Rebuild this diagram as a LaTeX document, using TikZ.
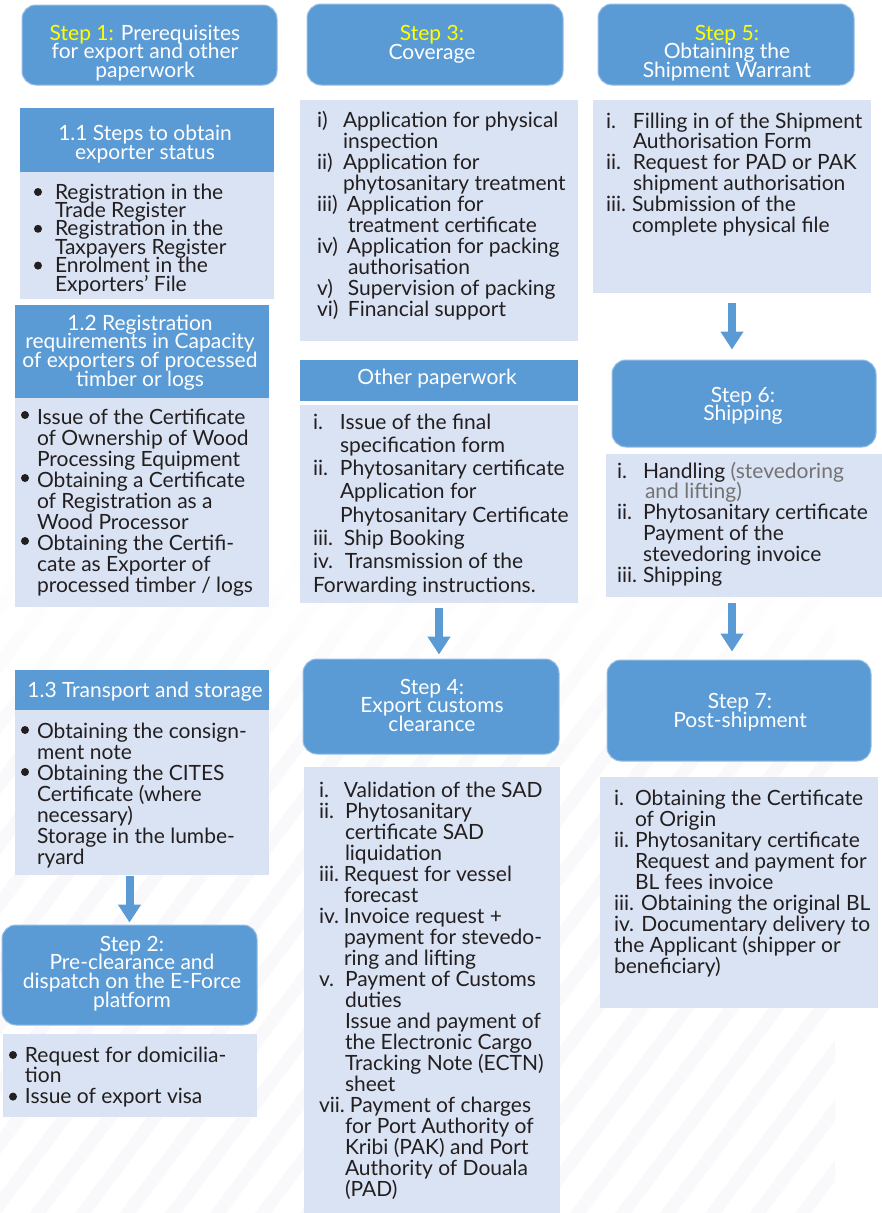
\documentclass[tikz,border=0pt]{standalone}
\usepackage{fontspec}
\setmainfont{Lato}
\usetikzlibrary{arrows.meta,fadings}

\definecolor{stepblue}{RGB}{91,155,213}
\definecolor{stepline}{RGB}{150,190,228}
\definecolor{pale}{RGB}{218,227,243}
\definecolor{ink}{RGB}{35,31,32}
\definecolor{hl}{RGB}{255,255,0}
\definecolor{soft}{RGB}{115,115,115}
\definecolor{stripe}{RGB}{249,249,251}

% list helpers: fixed-width label, hanging indent, first-line strut, bullet
\newcommand{\lab}[2]{\makebox[#1pt][l]{#2}}
\newcommand{\ind}[1]{\hspace*{#1pt}}
\newcommand{\tp}{\rule{0pt}{19pt}}
\newcommand{\bul}[1]{\raisebox{#1pt}{\tikz\fill[ink] (0,0) circle (4pt);}}

\begin{document}
\begin{tikzpicture}[x=1pt,y=-1pt,
  stepbox/.style={draw=stepline, line width=1pt, fill=stepblue, rounded corners=14pt, inner sep=0pt},
  headbox/.style={fill=stepblue, inner sep=0pt},
  bodybox/.style={fill=pale, inner sep=0pt},
  bodytxt/.style={anchor=north west, inner sep=0pt, outer sep=0pt, align=left, text=ink},
  headtxt/.style={anchor=north, inner sep=0pt, outer sep=0pt, align=center, text=white},
  blockarrow/.style={draw=stepblue, line width=8pt, -{Triangle[width=22pt,length=18pt]}}
]
\useasboundingbox (0,0) rectangle (882,1213);
\fill[white] (0,0) rectangle (882,1213);

% faint diagonal background bands in the lower part, fading out upwards
\begin{scope}
  \clip (0,560) rectangle (835,1213);
  \foreach \k in {0,...,40}
    \fill[stripe] (-600+\k*45,1213) -- ++(16,0) -- ++(525,-700) -- ++(-16,0) -- cycle;
  \fill[white, path fading=south] (0,559) rectangle (882,780);
\end{scope}

% ---------- column 1 ----------
\node[stepbox, minimum width=255pt, minimum height=80pt] (s1) at (149.5,45) {};
\node[headtxt, font={\fontsize{21}{18.5}\selectfont\lineskiplimit=-50pt}] (s1t) at (145,21)
  {\tp{\color{hl}Step 1:} Prerequisites\\for export and other\\paperwork};

\node[headbox, minimum width=254pt, minimum height=64pt] (h11) at (147,140) {};
\node[headtxt, font={\fontsize{21}{19}\selectfont\lineskiplimit=-50pt}] (h11t) at (145,121)
  {\tp 1.1 Steps to obtain\\exporter status};
\node[bodybox, minimum width=254pt, minimum height=127pt] (b11) at (147,235.5) {};
\node[bodytxt, font={\fontsize{21}{18.4}\selectfont\lineskiplimit=-50pt}] (b11t) at (34,180)
  {\tp\lab{21}{\bul{3}}Registration in the\\
   \ind{21}Trade Register\\
   \lab{21}{\bul{3}}Registration in the\\
   \ind{21}Taxpayers Register\\
   \lab{21}{\bul{3}}Enrolment in the\\
   \ind{21}Exporters’ File};

\node[headbox, minimum width=254pt, minimum height=93pt] (h12) at (142,351.5) {};
\node[headtxt, font={\fontsize{21}{18.7}\selectfont\lineskiplimit=-50pt}] (h12t) at (140,311)
  {\tp 1.2 Registration\\requirements in Capacity\\of exporters of processed\\timber or logs};
\node[bodybox, minimum width=254pt, minimum height=209pt] (b12) at (142,502.5) {};
\node[bodytxt, font={\fontsize{21}{21}\selectfont\lineskiplimit=-50pt}] (b12t) at (21,405)
  {\tp\lab{16}{\bul{5}}Issue of the Certificate\\
   \ind{16}of Ownership of Wood\\
   \ind{16}Processing Equipment\\
   \lab{16}{\bul{5}}Obtaining a Certificate\\
   \ind{16}of Registration as a\\
   \ind{16}Wood Processor\\
   \lab{16}{\bul{5}}Obtaining the Certifi-\\
   \ind{16}cate as Exporter of\\
   \ind{16}processed timber / logs};

\node[headbox, minimum width=254pt, minimum height=40pt] (h13) at (142,690) {};
\node[headtxt, font={\fontsize{21}{20}\selectfont}] (h13t) at (145,678)
  {\tp 1.3 Transport and storage};
\node[bodybox, minimum width=254pt, minimum height=165pt] (b13) at (142,792.5) {};
\node[bodytxt, font={\fontsize{21}{21}\selectfont\lineskiplimit=-50pt}] (b13t) at (21,719)
  {\tp\lab{16}{\bul{4}}Obtaining the consign-\\
   \ind{16}ment note\\
   \lab{16}{\bul{4}}Obtaining the CITES\\
   \ind{16}Certificate (where\\
   \ind{16}necessary)\\
   \ind{16}Storage in the lumbe-\\
   \ind{16}ryard};

\node[stepbox, minimum width=255pt, minimum height=100pt] (s2) at (129.5,975) {};
\node[headtxt, font={\fontsize{21}{18.7}\selectfont\lineskiplimit=-50pt}] (s2t) at (132,932)
  {\tp Step 2:\\Pre-clearance and\\dispatch on the E-Force\\platform};
\node[bodybox, minimum width=254pt, minimum height=83pt] (b2) at (130,1075.5) {};
\node[bodytxt, font={\fontsize{21}{20.8}\selectfont\lineskiplimit=-50pt}] (b2t) at (9,1043)
  {\tp\lab{16}{\bul{3}}Request for domicilia-\\
   \ind{16}tion\\
   \lab{16}{\bul{3}}Issue of export visa};

% ---------- column 2 ----------
\node[stepbox, minimum width=256pt, minimum height=81pt] (s3) at (435,44.5) {};
\node[headtxt, font={\fontsize{21}{19}\selectfont\lineskiplimit=-50pt}] (s3t) at (432,21)
  {\tp{\color{hl}Step 3:}\\Coverage};
\node[bodybox, minimum width=278pt, minimum height=241pt] (b3) at (439,220.5) {};
\node[bodytxt, font={\fontsize{21}{21}\selectfont\lineskiplimit=-50pt}] (b3t) at (317,108)
  {\tp\lab{26}{i)}Application for physical\\
   \ind{26}inspection\\
   \lab{26}{ii)}Application for\\
   \ind{26}phytosanitary treatment\\
   \lab{30}{iii)}Application for\\
   \ind{31}treatment certificate\\
   \lab{30}{iv)}Application for packing\\
   \ind{31}authorisation\\
   \lab{31}{v)}Supervision of packing\\
   \lab{31}{vi)}Financial support};

\node[headbox, minimum width=278pt, minimum height=41pt] (hop) at (439,380.5) {};
\node[headtxt, font={\fontsize{21}{20}\selectfont}] (hopt) at (437,365)
  {\tp Other paperwork};
\node[bodybox, minimum width=278pt, minimum height=198pt] (bop) at (439,504) {};
\node[bodytxt, font={\fontsize{21}{23.3}\selectfont\lineskiplimit=-50pt}] (bopt) at (313,410)
  {\tp\lab{27}{i.}Issue of the final\\
   \ind{27}specification form\\
   \lab{27}{ii.}Phytosanitary certificate\\
   \ind{27}Application for\\
   \ind{27}Phytosanitary Certificate\\
   \lab{31}{iii.}Ship Booking\\
   \lab{32}{iv.}Transmission of the\\
   Forwarding instructions.};

\node[stepbox, minimum width=256pt, minimum height=95pt] (s4) at (431,706.5) {};
\node[headtxt, font={\fontsize{21}{18.5}\selectfont\lineskiplimit=-50pt}] (s4t) at (432,675)
  {\tp Step 4:\\Export customs\\clearance};
\node[bodybox, minimum width=256pt, minimum height=446pt] (b4) at (432,990) {};
\node[bodytxt, font={\fontsize{21}{21}\selectfont\lineskiplimit=-50pt}] (b4t) at (319,778)
  {\tp\lab{25}{i.}Validation of the SAD\\
   \lab{26}{ii.}Phytosanitary\\
   \ind{26}certificate SAD\\
   \ind{26}liquidation\\
   \lab{25}{iii.}Request for vessel\\
   \ind{25}forecast\\
   \lab{25}{iv.}Invoice request +\\
   \ind{25}payment for stevedo-\\
   \ind{25}ring and lifting\\
   \lab{26}{v.}Payment of Customs\\
   \ind{26}duties\\
   \ind{26}Issue and payment of\\
   \ind{26}the Electronic Cargo\\
   \ind{26}Tracking Note (ECTN)\\
   \ind{26}sheet\\
   \lab{31}{vii.}Payment of charges\\
   \ind{26}for Port Authority of\\
   \ind{26}Kribi (PAK) and Port\\
   \ind{26}Authority of Douala\\
   \ind{26}(PAD)};

% ---------- column 3 ----------
\node[stepbox, minimum width=256pt, minimum height=81pt] (s5) at (726,44.5) {};
\node[headtxt, font={\fontsize{21}{18.5}\selectfont\lineskiplimit=-50pt}] (s5t) at (727,21)
  {\tp{\color{hl}Step 5:}\\Obtaining the\\Shipment Warrant};
\node[bodybox, minimum width=278pt, minimum height=193pt] (b5) at (732,196.5) {};
\node[bodytxt, font={\fontsize{21}{20.8}\selectfont\lineskiplimit=-50pt}] (b5t) at (606,109)
  {\tp\lab{27}{i.}Filling in of the Shipment\\
   \ind{27}Authorisation Form\\
   \lab{27}{ii.}Request for PAD or PAK\\
   \ind{27}shipment authorisation\\
   \lab{26}{iii.}Submission of the\\
   \ind{26}complete physical file};

\node[stepbox, minimum width=264pt, minimum height=87pt] (s6) at (744,403.5) {};
\node[headtxt, font={\fontsize{21}{18}\selectfont\lineskiplimit=-50pt}] (s6t) at (743,383)
  {\tp Step 6:\\Shipping};
\node[bodybox, minimum width=276pt, minimum height=143pt] (b6) at (744,525.5) {};
\node[bodytxt, font={\fontsize{21}{20.8}\selectfont\lineskiplimit=-50pt}] (b6t) at (617,459)
  {\tp\lab{26}{i.}Handling {\color{soft}(stevedoring}\\
   \ind{28}{\color{soft}and lifting)}\\
   \lab{26}{ii.}Phytosanitary certificate\\
   \ind{26}Payment of the\\
   \ind{26}stevedoring invoice\\
   \lab{26}{iii.}Shipping};

\node[stepbox, minimum width=264pt, minimum height=101pt] (s7) at (739,710.5) {};
\node[headtxt, font={\fontsize{21}{19}\selectfont\lineskiplimit=-50pt}] (s7t) at (740,689)
  {\tp Step 7:\\Post-shipment};
\node[bodybox, minimum width=278pt, minimum height=231pt] (b7) at (739,892.5) {};
\node[bodytxt, font={\fontsize{21}{21.1}\selectfont\lineskiplimit=-50pt}] (b7t) at (614,786)
  {\tp\lab{21}{i.}Obtaining the Certificate\\
   \ind{21}of Origin\\
   \lab{21}{ii.}Phytosanitary certificate\\
   \ind{21}Request and payment for\\
   \ind{21}BL fees invoice\\
   iii. Obtaining the original BL\\
   iv. Documentary delivery to\\
   the Applicant (shipper or\\
   beneficiary)};

% ---------- connectors ----------
\draw[blockarrow, shorten <=1pt, shorten >=2pt] (s2.north |- b13.south) -- (s2.north);
\draw[blockarrow, shorten <=5pt, shorten >=4pt] (bop.south) -- (bop.south |- s4.north);
\draw[blockarrow, shorten <=10pt, shorten >=10pt] (b5.south) -- (b5.south |- s6.north);
\draw[blockarrow, shorten <=6pt, shorten >=8pt] (b6.south -| b5.south) -- (b5.south |- s7.north);
\end{tikzpicture}
\end{document}
